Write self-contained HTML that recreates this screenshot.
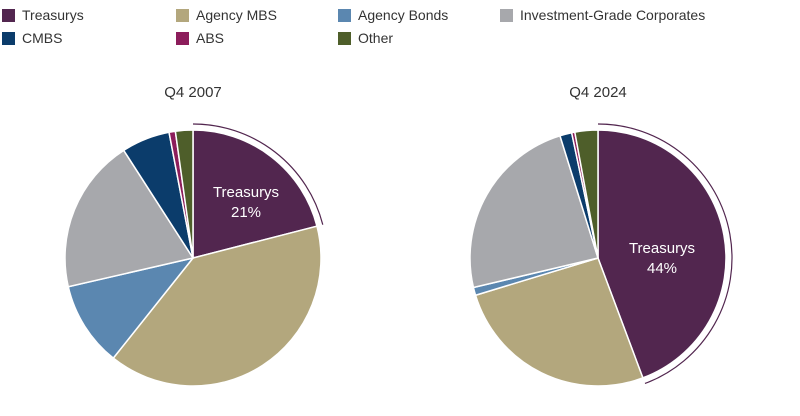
<!DOCTYPE html>
<html><head><meta charset="utf-8"><style>
body{margin:0;background:#fff;font-family:"Liberation Sans",sans-serif;}
#wrap{position:relative;width:800px;height:416px;overflow:hidden}
.leg{position:absolute;font-size:14px;color:#333;display:flex;align-items:center}
.sw{width:13px;height:13px;margin-right:7px;display:inline-block}
</style></head><body>
<div id="wrap">
<div id="legend"></div>
<svg id="svg" width="800" height="416" style="position:absolute;left:0;top:0"></svg>
</div>
<script>
const categories=["Treasurys","Agency MBS","Agency Bonds","Investment-Grade Corporates","CMBS","ABS","Other"];
const colors=["#52264f","#b3a77d","#5b87b0","#a7a8ac","#0b3c6b","#8c1d5b","#4e5e2a"];
const titles=["Q4 2007","Q4 2024"];
const values2007=[21,39.7,10.7,19.5,6.1,0.8,2.2];
const values2024=[44.3,26,1,23.9,1.5,0.4,2.9];
const legPos=[[2,7],[176,7],[338,7],[500,7],[2,30],[176,30],[338,30]];
const leg=document.getElementById('legend');
categories.forEach((c,i)=>{
 const d=document.createElement('div');d.className='leg';
 
 
 d.style.left=legPos[i][0]+'px';d.style.top=legPos[i][1]+'px';
 d.innerHTML='<span class="sw" style="background:'+colors[i]+'"></span>'+c;
 leg.appendChild(d);
});
const svg=document.getElementById('svg');const NS='http://www.w3.org/2000/svg';
function pt(cx,cy,r,f){const a=f*2*Math.PI;return [cx+r*Math.sin(a),cy-r*Math.cos(a)];}
function pie(vals,cx,cy,r,title,lx,ly){
 const tot=vals.reduce((a,b)=>a+b,0);let cum=0;
 vals.forEach((v,i)=>{
  const f0=cum/tot,f1=(cum+v)/tot;cum+=v;
  const p0=pt(cx,cy,r,f0),p1=pt(cx,cy,r,f1);
  const p=document.createElementNS(NS,'path');
  p.setAttribute('d',`M${cx},${cy}L${p0[0]},${p0[1]}A${r},${r} 0 ${f1-f0>0.5?1:0} 1 ${p1[0]},${p1[1]}Z`);
  p.setAttribute('fill',colors[i]);p.setAttribute('stroke','#fff');p.setAttribute('stroke-width','1.5');
  
  
  svg.appendChild(p);
 });
 const f=vals[0]/tot,R=r+6,a0=pt(cx,cy,R,0),a1=pt(cx,cy,R,f);
 const arc=document.createElementNS(NS,'path');
 arc.setAttribute('d',`M${a0[0]},${a0[1]}A${R},${R} 0 ${f>0.5?1:0} 1 ${a1[0]},${a1[1]}`);
 arc.setAttribute('fill','none');arc.setAttribute('stroke','#52264f');arc.setAttribute('stroke-width','1.2');
 
 
 svg.appendChild(arc);
 const t=document.createElementNS(NS,'text');t.setAttribute('x',cx);t.setAttribute('y',97);
 t.setAttribute('text-anchor','middle');t.setAttribute('font-size','15');t.setAttribute('fill','#333');
 t.setAttribute('font-family','Liberation Sans');t.textContent=title;
 
 
 svg.appendChild(t);
 ['Treasurys',Math.round(vals[0])+'%'].forEach((s,k)=>{
  const l=document.createElementNS(NS,'text');l.setAttribute('x',lx);l.setAttribute('y',ly+k*20);
  l.setAttribute('text-anchor','middle');l.setAttribute('font-size','15');l.setAttribute('fill','#fff');
  l.setAttribute('font-family','Liberation Sans');l.textContent=s;
  
  
  svg.appendChild(l);
 });
}
pie(values2007,193,258,128,titles[0],246,197);
pie(values2024,598,258,128,titles[1],662,253);
</script>
</body></html>
